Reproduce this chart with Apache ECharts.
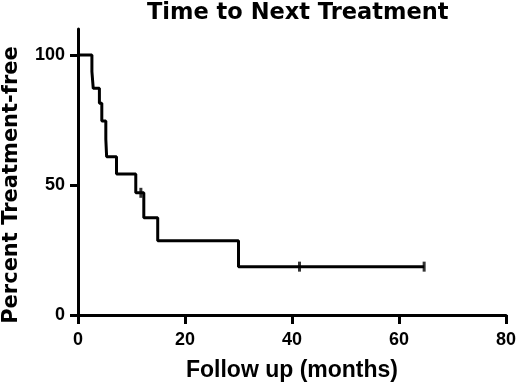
<!DOCTYPE html>
<html>
<head>
<meta charset="utf-8">
<script src="https://cdn.jsdelivr.net/npm/echarts@6/dist/echarts.min.js"></script>
<style>html,body{margin:0;padding:0;background:#fff}#c{width:520px;height:385px}</style>
</head>
<body>
<div id="c"></div>
<script>
// Kaplan-Meier step curve (months, percent treatment-free)
const stepTimes = [0, 2.6, 2.85, 4.0, 4.45, 5.2, 5.35, 7.2, 10.8, 12.3, 14.9, 30.0, 64.7];
const stepSurv  = [100, 93.6, 87.2, 81.4, 74.6, 67.6, 60.9, 54.2, 47.0, 37.4, 28.6, 18.6, 18.6];
// censored observations
const censorTimes = [11.75, 41.4, 64.7];
const censorSurv  = [47.0, 18.6, 18.6];
// ticks
const xTicks = [0, 20, 40, 60, 80];
const yTicks = [0, 50, 100];

const curve = stepTimes.map((t, i) => [t, stepSurv[i]]);
const censor = censorTimes.map((t, i) => [t, censorSurv[i]]);

const chart = echarts.init(document.getElementById('c'), null, {renderer: 'canvas'});
chart.setOption({
  animation: false,
  backgroundColor: '#fff',
  title: {
    text: 'Time to Next Treatment',
    left: 142, top: -3,
    textStyle: {fontFamily: 'DejaVu Sans', fontWeight: 'bold', fontSize: 22.5, color: '#000'}
  },
  grid: {left: 78, right: 14, top: 29, bottom: 70, containLabel: false, outerBoundsMode: 'none'},
  xAxis: {
    type: 'value', min: 0, max: 80, interval: 20,
    name: 'Follow up (months)', nameLocation: 'middle', nameGap: 44,
    nameTextStyle: {fontFamily: 'Liberation Sans', fontWeight: 'bold', fontSize: 23, color: '#000'},
    axisLine: {show: true, onZero: false, lineStyle: {color: '#000', width: 3}},
    axisTick: {show: true, length: 9, lineStyle: {color: '#000', width: 3}, customValues: xTicks},
    axisLabel: {fontFamily: 'Liberation Sans', fontWeight: 'bold', fontSize: 18, color: '#000', margin: 16, customValues: xTicks},
    splitLine: {show: false}
  },
  yAxis: {
    type: 'value', min: 0, max: 110, interval: 50,
    axisLine: {show: true, onZero: false, lineStyle: {color: '#000', width: 3}},
    axisTick: {show: true, length: 8, lineStyle: {color: '#000', width: 3}, customValues: yTicks},
    axisLabel: {fontFamily: 'Liberation Sans', fontWeight: 'bold', fontSize: 18, color: '#000', margin: 13, customValues: yTicks},
    splitLine: {show: false}
  },
  graphic: [{
    type: 'text', x: 12, y: 185, rotation: Math.PI / 2,
    style: {
      text: 'Percent Treatment-free', align: 'center', verticalAlign: 'middle',
      font: 'bold 21px "DejaVu Sans"', fill: '#000'
    }
  }],
  series: [
    {
      type: 'line', step: 'end', data: curve, symbol: 'none',
      lineStyle: {color: '#000', width: 3}, z: 3
    },
    {
      type: 'scatter', data: censor, symbol: 'rect', symbolSize: [3, 10],
      itemStyle: {color: '#000'}, z: 4
    }
  ]
});
</script>
</body>
</html>
